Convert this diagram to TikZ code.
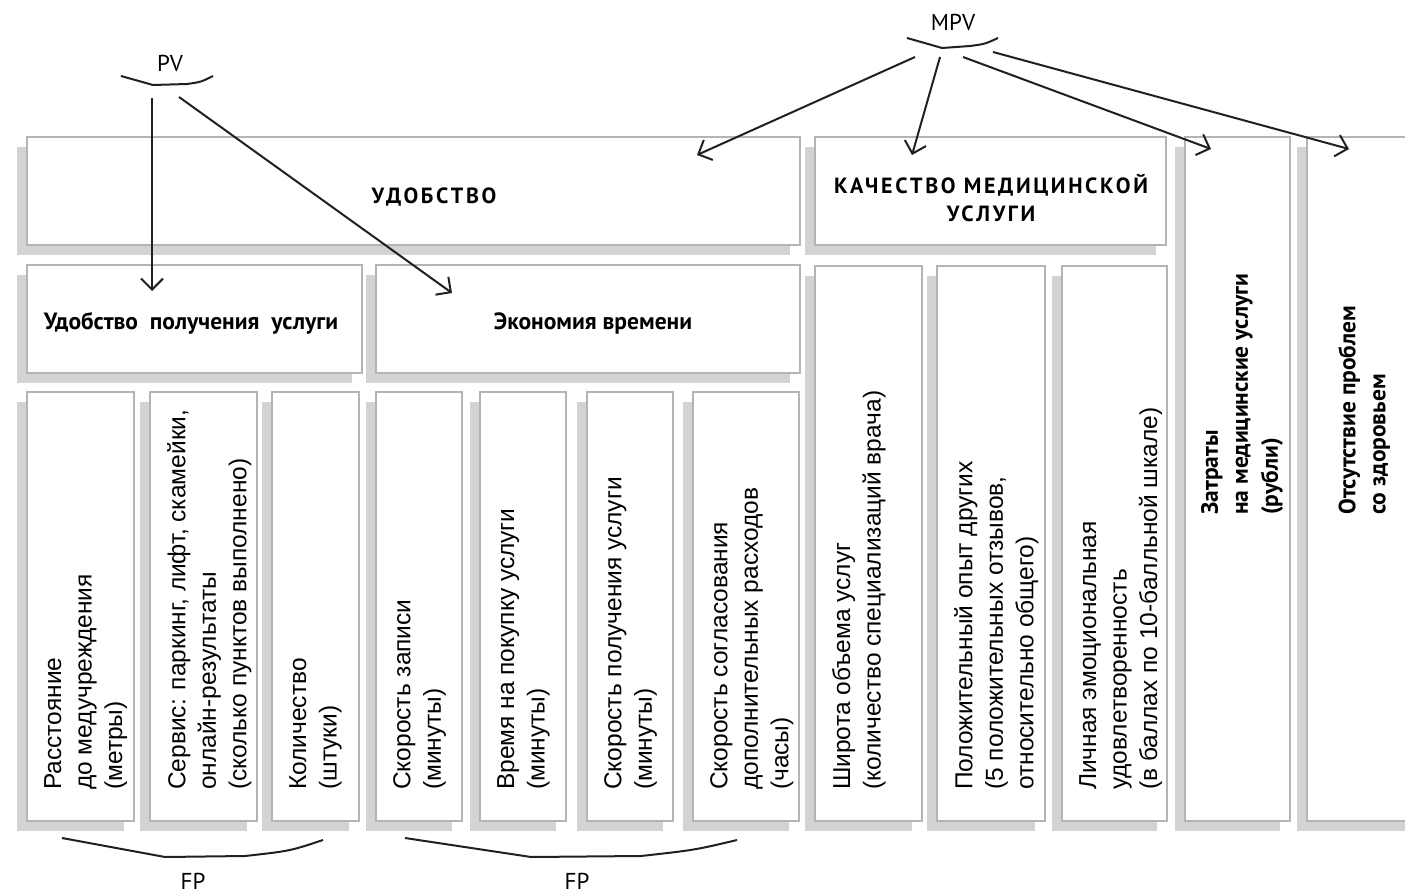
\documentclass[tikz,border=0pt]{standalone}
\usepackage{fontspec}
\setmainfont{Liberation Sans}
\newfontfamily\ptsans{PT Sans}
\newfontfamily\ptcaps[LetterSpace=12]{PT Sans}
\usetikzlibrary{arrows.meta,positioning,shadows}

\definecolor{boxline}{RGB}{180,180,180}
\definecolor{boxshade}{RGB}{209,211,212}
\definecolor{inkline}{RGB}{35,31,32}

\tikzset{
  factor/.style={draw=boxline, line width=2pt, fill=white, inner sep=0pt, outer sep=0pt,
    general shadow={fill=boxshade, shadow xshift=-10pt, shadow yshift=-10pt}},
  vlabel/.style={rotate=90, anchor=north west, align=left, inner sep=0pt,
    font=\fontsize{24.5}{30.5}\selectfont},
  vhead/.style={rotate=90, anchor=north west, align=left, inner sep=0pt,
    font=\ptsans\bfseries\fontsize{23.5}{30}\selectfont},
  headtext/.style={font=\ptcaps\bfseries\fontsize{22}{28}\selectfont, align=center, inner sep=0pt},
  subhead/.style={font=\ptsans\bfseries\fontsize{23.5}{25}\selectfont, inner sep=0pt},
  tag/.style={font=\ptsans\fontsize{23}{25}\selectfont, inner sep=0pt},
  link/.style={draw=inkline, line width=2pt, -{Straight Barb[length=11pt,width=22pt]}},
  brace/.style={draw=inkline, line width=2pt, line join=round},
}

\begin{document}
\begin{tikzpicture}[x=1pt, y=-1pt]
  \useasboundingbox (0,0) rectangle (1405,896);
  \clip (0,0) rectangle (1405,896);

  % top row
  \node[factor, anchor=north west, minimum width=773, minimum height=108] (udob) at (27,137) {};
  \node[factor, anchor=north west, minimum width=351, minimum height=108] (kach) at (815,137) {};
  \node[factor, anchor=north west, minimum width=105, minimum height=684] (zatr) at (1185,137) {};
  \node[factor, anchor=north west, minimum width=193, minimum height=684] (otsut) at (1307,137) {};

  % second row
  \node[factor, anchor=north west, minimum width=335, minimum height=108] (poluch) at (27,265) {};
  \node[factor, anchor=north west, minimum width=424, minimum height=108] (ekon) at (376,265) {};
  \node[factor, anchor=north west, minimum width=107, minimum height=555] (shir) at (815,266) {};
  \node[factor, right=15pt of shir.north east, anchor=north west, minimum width=108, minimum height=555] (polozh) {};
  \node[factor, right=17pt of polozh.north east, anchor=north west, minimum width=105, minimum height=555] (lich) {};

  % third row
  \node[factor, anchor=north west, minimum width=107, minimum height=429] (rass) at (27,392) {};
  \node[factor, right=16pt of rass.north east, anchor=north west, minimum width=107, minimum height=429] (serv) {};
  \node[factor, right=15pt of serv.north east, anchor=north west, minimum width=87, minimum height=429] (kol) {};
  \node[factor, right=17pt of kol.north east, anchor=north west, minimum width=86, minimum height=429] (zap) {};
  \node[factor, right=18pt of zap.north east, anchor=north west, minimum width=86, minimum height=429] (pokup) {};
  \node[factor, right=21pt of pokup.north east, anchor=north west, minimum width=86, minimum height=429] (skor) {};
  \node[factor, right=20pt of skor.north east, anchor=north west, minimum width=106, minimum height=429] (sogl) {};

  % headings
  \node[headtext] (t-udob) at (434,197) {УДОБСТВО};
  \node[headtext] (t-kach) at (991,198) {КАЧЕСТВО МЕДИЦИНСКОЙ\\УСЛУГИ};
  \node[subhead] (t-poluch) at (191,323) {Удобство \ получения \ услуги};
  \node[subhead] (t-ekon) at (593,323) {Экономия времени};

  % vertical labels
  \node[vlabel] (l-rass) at ([shift={(17,-31)}]rass.south west) {Расстояние\\до медучреждения\\(метры)};
  \node[vlabel] (l-serv) at ([shift={(17,-31)}]serv.south west) {Сервис: паркинг, лифт, скамейки,\\онлайн-результаты\\(сколько пунктов выполнено)};
  \node[vlabel] (l-kol) at ([shift={(17,-31)}]kol.south west) {Количество\\(штуки)};
  \node[vlabel] (l-zap) at ([shift={(17,-31)}]zap.south west) {Скорость записи\\(минуты)};
  \node[vlabel] (l-pokup) at ([shift={(17,-31)}]pokup.south west) {Время на покупку услуги\\(минуты)};
  \node[vlabel] (l-skor) at ([shift={(17,-31)}]skor.south west) {Скорость получения услуги\\(минуты)};
  \node[vlabel] (l-sogl) at ([shift={(17,-31)}]sogl.south west) {Скорость согласования\\дополнительных расходов\\(часы)};
  \node[vlabel] (l-shir) at ([shift={(17,-31)}]shir.south west) {Широта объема услуг\\(количество специализаций врача)};
  \node[vlabel] (l-polozh) at ([shift={(17,-31)}]polozh.south west) {Положительный опыт других\\(5 положительных отзывов,\\относительно общего)};
  \node[vlabel] (l-lich) at ([shift={(17,-31)}]lich.south west) {Личная эмоциональная\\удовлетворенность\\(в баллах по 10-балльной шкале)};
  \node[vhead] (l-zatr) at ([shift={(16,-306)}]zatr.south west) {Затраты\\на медицинские услуги\\(рубли)};
  \node[vhead] (l-otsut) at ([shift={(31,-306)}]otsut.south west) {Отсутствие проблем\\со здоровьем};

  % PV
  \node[tag] (pv) at (170,63) {PV};
  \draw[brace] (121,76) -- (153,85) -- (187,84) .. controls (201,82) .. (213,76);
  \coordinate (pv-a) at (152,98);
  \coordinate (pv-b) at (179,97);
  \coordinate (pv-a-end) at (152,291);
  \coordinate (pv-b-end) at (452,293);
  \draw[link] (pv-a) -- (pv-a-end);
  \draw[link] (pv-b) -- (pv-b-end);

  % MPV
  \node[tag] (mpv) at (953,22) {MPV};
  \draw[brace] (907,38) -- (942,48) -- (970,46) .. controls (985,44) .. (998,38);
  \coordinate (mpv-a) at (915,57);
  \coordinate (mpv-b) at (940,57);
  \coordinate (mpv-c) at (963,57);
  \coordinate (mpv-d) at (993,52);
  \coordinate (mpv-a-end) at (697,155);
  \coordinate (mpv-b-end) at (912,155);
  \coordinate (mpv-c-end) at (1211,149);
  \coordinate (mpv-d-end) at (1349,149);
  \draw[link] (mpv-a) -- (mpv-a-end);
  \draw[link] (mpv-b) -- (mpv-b-end);
  \draw[link] (mpv-c) -- (mpv-c-end);
  \draw[link] (mpv-d) -- (mpv-d-end);

  % FP
  \draw[brace] (62,838) -- (165,857) -- (245,856) .. controls (290,851) .. (323,840);
  \draw[brace] (405,838) -- (531,857) -- (641,856) .. controls (695,850) .. (737,840);
  \node[tag] (fp-a) at (193,881) {FP};
  \node[tag] (fp-b) at (577,881) {FP};
\end{tikzpicture}
\end{document}
